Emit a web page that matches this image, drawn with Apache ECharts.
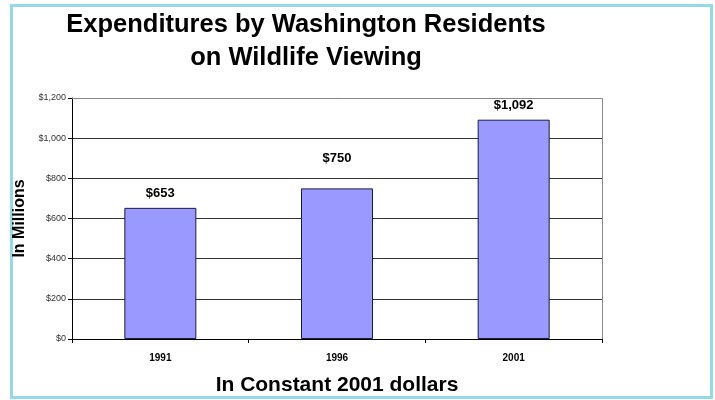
<!DOCTYPE html>
<html>
<head>
<meta charset="utf-8">
<style>
  html, body { margin: 0; padding: 0; background: #ffffff; }
  #chart { width: 715px; height: 400px; }
</style>
<script src="https://cdn.jsdelivr.net/npm/echarts@6/dist/echarts.min.js"></script>
</head>
<body>
<div id="chart"></div>
<script>
// Survey years and spending (millions of constant 2001 dollars)
const years = ['1991', '1996', '2001'];
const spending = [653, 750, 1092];
const yTicks = [0, 200, 400, 600, 800, 1000, 1200];

const fmtDollar = v => '$' + v.toLocaleString('en-US');

const chart = echarts.init(document.getElementById('chart'), null, { renderer: 'canvas' });

chart.setOption({
  animation: false,
  backgroundColor: '#ffffff',
  textStyle: { fontFamily: 'Liberation Sans, Arial, sans-serif' },
  title: {
    text: 'Expenditures by Washington Residents\non Wildlife Viewing',
    left: 301,
    top: 3,
    textAlign: 'center',
    textStyle: {
      fontSize: 25.5,
      fontWeight: 'bold',
      color: '#000000',
      lineHeight: 33,
      fontFamily: 'Liberation Sans, Arial, sans-serif'
    }
  },
  grid: {
    left: 72, right: 113, top: 98, bottom: 61,
    containLabel: false,
    outerBoundsMode: 'none'
  },
  xAxis: {
    type: 'category',
    data: years,
    name: 'In Constant 2001 dollars',
    nameLocation: 'middle',
    nameGap: 36,
    nameTextStyle: { fontSize: 21, fontWeight: 'bold', color: '#000000' },
    axisLine: { lineStyle: { color: '#000000', width: 1 } },
    axisTick: { show: true, alignWithLabel: false, length: 4, lineStyle: { color: '#000000' } },
    axisLabel: { fontSize: 10, fontWeight: 'bold', color: '#000000', margin: 14 }
  },
  yAxis: {
    type: 'value',
    min: yTicks[0],
    max: yTicks[yTicks.length - 1],
    interval: 200,
    name: 'In Millions',
    nameLocation: 'middle',
    nameGap: 42,
    nameTextStyle: { fontSize: 16, fontWeight: 'bold', color: '#000000' },
    axisLine: { show: true, lineStyle: { color: '#000000', width: 1 } },
    axisTick: { show: true, length: 4, lineStyle: { color: '#000000' } },
    axisLabel: { fontSize: 9, color: '#333333', margin: 6, formatter: fmtDollar },
    splitLine: { show: true, lineStyle: { color: '#333333', width: 1 } }
  },
  graphic: [
    // outer frame
    {
      type: 'rect',
      shape: { x: 11.5, y: 5.5, width: 700, height: 392 },
      style: { fill: 'none', stroke: '#95d9e8', lineWidth: 3 },
      silent: true,
      z: -1
    },
    // plot area outline on the top and right sides
    {
      type: 'polyline',
      shape: { points: [[72, 98.5], [602.5, 98.5], [602.5, 339]] },
      style: { fill: 'none', stroke: '#888888', lineWidth: 1 },
      silent: true,
      z: 5
    }
  ],
  series: [{
    type: 'bar',
    data: spending.map((v, i) => i === 1
      ? { value: v, label: { offset: [0, -15] } }
      : v),
    barWidth: 72,
    itemStyle: { color: '#9999ff', borderColor: '#1a1a40', borderWidth: 1 },
    label: {
      show: true,
      position: 'top',
      distance: 8,
      fontSize: 13,
      fontWeight: 'bold',
      color: '#000000',
      formatter: p => fmtDollar(p.value)
    }
  }]
});
</script>
</body>
</html>
